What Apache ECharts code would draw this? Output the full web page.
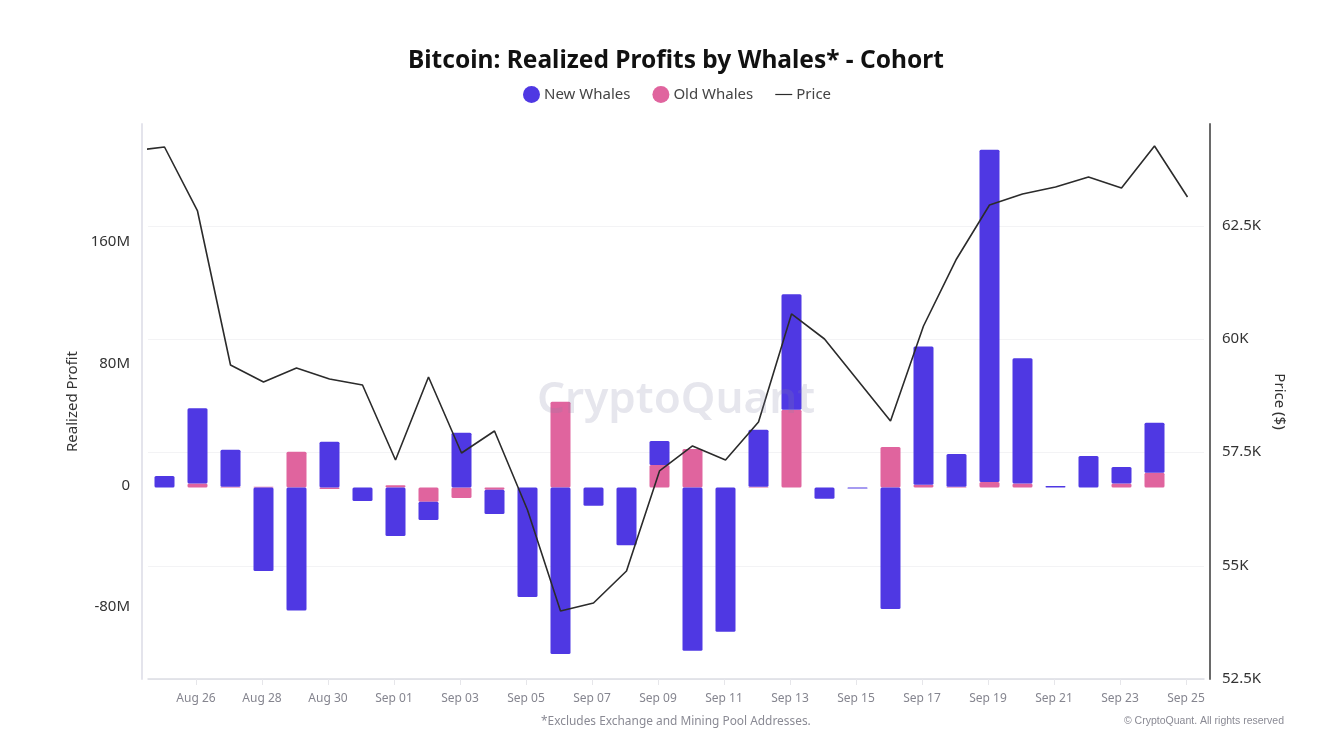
<!DOCTYPE html>
<html><head><meta charset="utf-8">
<style>html,body{margin:0;padding:0;background:#fff}#c{width:1324px;height:749px}</style>
<script src="https://cdn.jsdelivr.net/npm/echarts@6/dist/echarts.min.js"></script>
</head><body><div id="c"></div>
<script>
const days = ['Aug 24','Aug 25','Aug 26','Aug 27','Aug 28','Aug 29','Aug 30','Aug 31','Sep 01','Sep 02','Sep 03','Sep 04','Sep 05','Sep 06','Sep 07','Sep 08','Sep 09','Sep 10','Sep 11','Sep 12','Sep 13','Sep 14','Sep 15','Sep 16','Sep 17','Sep 18','Sep 19','Sep 20','Sep 21','Sep 22','Sep 23','Sep 24','Sep 25'];
const barDays = days.slice(1);
const newWhales = [7.5,49.5,24.2,-55,-81,30,-9,-32,-12,36,-16,-72,-109.5,-12,-38,15.8,-107.5,-95,37.5,76,-7.5,-0.7,-80,91,21.5,218.5,82.5,1,20.7,11,32.8,null];
const oldWhales = [0,2.5,0.5,0.5,23.4,-1,0,1.5,-9.5,-7,-1.5,0,56.3,0,0,14.8,25.3,0,0.5,51,0,0,26.6,1.7,0.5,3.5,2.5,0,0,2.5,9.7,null];
const price = [64158,64246,62834,59433,59058,59367,59124,58992,57336,59168,57490,57976,56232,54001,54178,54885,57093,57645,57336,58175,60560,60007,59100,58197,60294,61774,62966,63209,63363,63584,63341,64269,63143];
const xTickDays = ['Aug 26','Aug 28','Aug 30','Sep 01','Sep 03','Sep 05','Sep 07','Sep 09','Sep 11','Sep 13','Sep 15','Sep 17','Sep 19','Sep 21','Sep 23','Sep 25'];
const profitTicks = [-80,0,80,160];
const priceTicks = [52500,55000,57500,60000,62500];

const tickShift = 0.045;
const tickPos = xTickDays.map(d => days.indexOf(d) - tickShift);
const lf = 'Noto Sans, sans-serif';
const barBase = {type:'bar', stack:'w', barWidth:20, xAxisIndex:1, yAxisIndex:0};

const option = {
  animation:false,
  backgroundColor:'#fff',
  title:[
    {text:'Bitcoin: Realized Profits by Whales* - Cohort', left:403, top:44, textStyle:{fontFamily:lf,fontSize:24.5,fontWeight:'bold',color:'#111'}},
    {text:'*Excludes Exchange and Mining Pool Addresses.', left:536, top:711, textStyle:{fontFamily:lf,fontSize:11.9,fontWeight:'normal',color:'#8a8a94'}},
    {text:'© CryptoQuant. All rights reserved', right:35, top:711, textStyle:{fontFamily:'Liberation Sans',fontSize:10.5,fontWeight:'normal',color:'#8a8a94'}}
  ],
  graphic:[{type:'text',left:537,top:378,z:50,silent:true,style:{text:'CryptoQuant',x:0,y:0,fontFamily:lf,fontSize:44,fontWeight:600,fill:'rgba(130,130,165,0.2)'}}],
  legend:{
    top:81,left:518,itemGap:22,itemWidth:17,itemHeight:17,
    textStyle:{fontFamily:lf,fontSize:15,color:'#444',padding:[0,0,0,-1]},
    data:[{name:'New Whales',icon:'circle'},{name:'Old Whales',icon:'circle'},{name:'Price',icon:'path://M0 8H17V9.2H0Z'}]
  },
  grid:{left:148,right:120,top:124,bottom:70},
  xAxis:[{
    type:'value',
    min:0.5, max:32.5,
    axisLine:{show:true,onZero:false,lineStyle:{color:'#dcdde3',width:1.5}},
    axisTick:{show:true,length:6,customValues:tickPos,lineStyle:{color:'#e6e6ea'}},
    splitLine:{show:false},
    axisLabel:{customValues:tickPos,margin:14,hideOverlap:false,fontFamily:lf,fontSize:12,color:'#85858f',
      formatter:v=>days[Math.round(v)]}
  },{
    type:'category',data:barDays,show:false,boundaryGap:true
  }],
  yAxis:[
    {type:'value',position:'left',min:-126,max:239,offset:6,
      name:'Realized Profit',nameLocation:'middle',nameGap:61,nameTextStyle:{fontFamily:lf,fontSize:15,color:'#333'},
      axisLine:{show:true,onZero:false,lineStyle:{color:'#e4e4ec',width:2}},
      axisTick:{show:false,customValues:profitTicks},splitLine:{show:false},
      axisLabel:{customValues:profitTicks,margin:12,fontFamily:lf,fontSize:15,color:'#333',verticalAlign:'bottom',lineHeight:4,formatter:v=>v===0?'0':v+'M'}},
    {type:'value',position:'right',min:52500,max:64754,offset:6,
      name:'Price ($)',nameLocation:'middle',nameRotate:-90,nameGap:59,nameTextStyle:{fontFamily:lf,fontSize:15,color:'#333'},
      axisLine:{show:true,onZero:false,lineStyle:{color:'#6a6a6a',width:2}},
      axisTick:{show:false,customValues:priceTicks},
      splitLine:{show:true,lineStyle:{color:'#f3f3f5',width:1}},
      axisLabel:{customValues:priceTicks,margin:12,fontFamily:lf,fontSize:15,color:'#333',verticalAlign:'bottom',lineHeight:1,formatter:v=>(v/1000)+'K'}}
  ],
  series:[
    Object.assign({},barBase,{name:'Old Whales',itemStyle:{color:'#e0649e',borderRadius:1.5},data:oldWhales}),
    Object.assign({},barBase,{name:'New Whales',itemStyle:{color:'#4f38e3',borderRadius:1.5},data:newWhales}),
    {name:'Price',type:'line',xAxisIndex:0,yAxisIndex:1,z:10,symbol:'none',clip:true,lineStyle:{color:'#2b2b2b',width:1.6},itemStyle:{color:'#2b2b2b'},data:days.map((d,i)=>[i,price[i]])}
  ]
};
const chart = echarts.init(document.getElementById('c'),null,{renderer:'canvas'});
chart.setOption(option);
</script></body></html>
